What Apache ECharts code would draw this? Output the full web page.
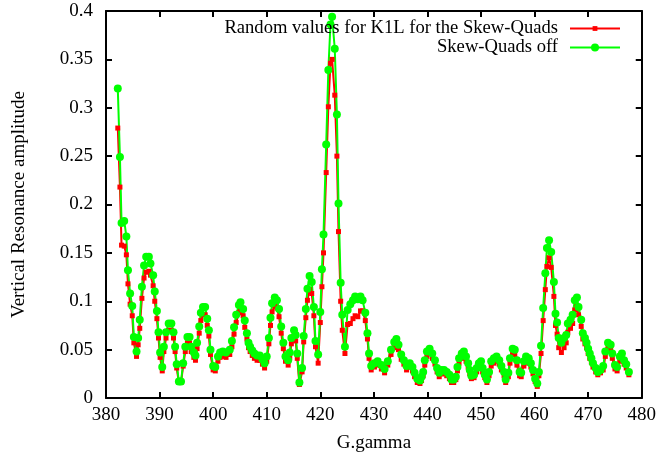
<!DOCTYPE html>
<html>
<head>
<meta charset="utf-8">
<script src="https://cdn.jsdelivr.net/npm/echarts@6/dist/echarts.min.js"></script>
<style>html,body{margin:0;padding:0;background:#fff}#c{width:659px;height:460px}</style>
</head>
<body>
<div id="c"></div>
<script>
const gammaValues = [
382.2,382.6,382.9,383.4,383.8,384.1,384.5,384.9,385.2,385.7,
386.0,386.3,386.7,387.1,387.5,388.0,388.3,388.8,389.1,389.5,
389.8,390.1,390.5,390.8,391.2,391.7,392.2,392.6,392.9,393.2,
393.6,394.0,394.4,394.8,395.2,395.6,395.9,396.4,396.7,397.0,
397.4,397.7,398.1,398.5,398.9,399.2,399.5,400.0,400.4,400.9,
401.3,401.8,402.4,403.1,403.5,403.9,404.3,404.8,405.1,405.6,
405.9,406.3,406.6,406.9,407.3,407.7,408.2,408.7,409.2,409.6,
410.0,410.4,410.7,411.0,411.5,411.9,412.3,412.7,413.1,413.5,
414.0,414.3,414.6,415.1,415.4,415.7,416.1,416.6,416.9,417.3,
417.6,418.0,418.4,418.8,419.1,419.6,420.0,420.3,420.6,421.1,
421.5,421.9,422.2,422.7,423.1,423.4,423.8,424.1,424.6,425.1,
425.6,426.1,426.5,427.0,427.5,427.9,428.4,428.8,429.1,429.5,
430.1,430.7,431.4,432.0,432.6,433.2,433.8,434.2,434.6,435.1,
435.6,436.1,436.7,437.2,437.6,438.1,438.6,438.9,439.2,439.5,
439.9,440.4,440.9,441.4,441.8,442.2,442.6,443.1,443.6,444.1,
444.5,444.9,445.3,445.6,445.9,446.4,446.8,447.2,447.6,447.9,
448.2,448.7,449.2,449.6,450.0,450.3,450.7,451.1,451.5,451.9,
452.4,452.9,453.4,453.8,454.3,454.6,455.1,455.4,455.9,456.3,
456.7,457.2,457.5,458.0,458.4,458.9,459.3,459.7,460.1,460.5,
460.8,461.2,461.6,462.0,462.3,462.7,463.1,463.6,463.9,464.2,
464.5,465.0,465.5,465.9,466.2,466.7,467.1,467.5,467.9,468.2,
468.7,469.0,469.4,469.7,470.0,470.3,470.6,470.9,471.4,471.8,
472.3,472.8,473.2,473.7,474.2,474.5,475.0,475.4,475.9,476.3,
476.7,477.1,477.6
];
const randomK1L = [
.279,.218,.158,.157,.148,.118,.097,.085,.057,.043,
.055,.072,.103,.124,.130,.131,.127,.116,.100,.082,
.062,.042,.028,.048,.062,.070,.070,.062,.048,.031,
.016,.016,.033,.048,.057,.057,.048,.042,.039,.051,
.067,.080,.086,.086,.075,.064,.045,.029,.028,.038,
.042,.043,.042,.045,.053,.066,.078,.088,.091,.085,
.073,.061,.052,.048,.044,.041,.039,.039,.035,.031,
.038,.056,.075,.089,.095,.093,.084,.067,.051,.038,
.034,.042,.056,.064,.059,.041,.014,.027,.058,.083,
.101,.112,.108,.085,.053,.036,.078,.115,.150,.233,
.301,.346,.350,.313,.250,.172,.100,.070,.046,.076,
.077,.082,.085,.084,.090,.090,.080,.061,.041,.029,
.032,.034,.030,.026,.034,.045,.052,.055,.050,.040,
.035,.029,.032,.028,.022,.016,.015,.018,.023,.034,
.043,.046,.041,.035,.027,.022,.025,.025,.023,.020,
.016,.016,.019,.028,.036,.041,.043,.038,.032,.025,
.020,.021,.027,.032,.034,.027,.021,.016,.023,.033,
.036,.038,.035,.029,.023,.016,.022,.036,.045,.045,
.034,.023,.022,.033,.038,.036,.032,.025,.017,.012,
.023,.046,.080,.112,.136,.145,.135,.105,.075,.066,
.052,.047,.052,.057,.068,.072,.077,.091,.095,.086,
.074,.061,.056,.052,.046,.041,.037,.032,.027,.024,
.026,.029,.043,.051,.050,.041,.030,.028,.038,.041,
.035,.031,.024
];
const skewQuadsOff = [
.320,.249,.181,.183,.167,.132,.108,.095,.063,.048,
.062,.081,.115,.137,.146,.146,.139,.127,.110,.090,
.068,.047,.032,.053,.068,.077,.077,.068,.053,.035,
.017,.017,.036,.053,.063,.063,.053,.047,.044,.057,
.074,.088,.094,.094,.082,.070,.050,.033,.032,.043,
.047,.048,.047,.050,.059,.073,.086,.096,.099,.092,
.080,.067,.057,.053,.049,.046,.044,.044,.040,.036,
.043,.062,.083,.098,.104,.101,.092,.074,.057,.043,
.039,.047,.062,.070,.065,.046,.016,.031,.064,.092,
.113,.126,.120,.094,.059,.045,.089,.133,.169,.262,
.339,.386,.394,.361,.293,.201,.119,.086,.053,.091,
.097,.101,.105,.102,.105,.101,.088,.067,.046,.033,
.036,.038,.034,.030,.038,.050,.058,.061,.055,.045,
.039,.033,.036,.032,.026,.020,.018,.022,.027,.039,
.048,.051,.046,.039,.031,.026,.029,.029,.027,.024,
.019,.019,.022,.032,.041,.046,.048,.043,.036,.029,
.023,.024,.031,.036,.038,.031,.024,.019,.027,.038,
.041,.043,.039,.033,.027,.019,.026,.041,.051,.050,
.039,.027,.026,.038,.043,.041,.036,.029,.020,.015,
.027,.054,.093,.129,.155,.163,.151,.120,.087,.078,
.062,.057,.062,.065,.077,.081,.086,.101,.104,.094,
.081,.067,.062,.057,.051,.046,.041,.036,.031,.027,
.029,.033,.048,.057,.055,.046,.034,.032,.043,.046,
.039,.035,.027
];
const seriesNames = ['Random values for K1L for the Skew-Quads', 'Skew-Quads off'];
const xTitle = 'G.gamma';
const yTitle = 'Vertical Resonance amplitude';

const FONT = 'Liberation Serif';
const FS = 19;
const LFS = 18.6;
const pairs = (ys) => gammaValues.map((g, i) => [g, ys[i]]);
const chart = echarts.init(document.getElementById('c'), null, {renderer: 'canvas'});
const axisCommon = {
  axisLine: {show: true, onZero: false, lineStyle: {color: '#000', width: 2}},
  axisTick: {show: true, inside: true, length: 6, lineStyle: {color: '#000', width: 2}},
  splitLine: {show: false}
};
chart.setOption({
  animation: false,
  backgroundColor: '#fff',
  grid: {left: 106, right: 17, top: 11, bottom: 62},
  legend: [
    {data: [seriesNames[0]], right: 33, top: 14, align: 'right', itemWidth: 50, itemHeight: 6,
     textStyle: {fontFamily: FONT, fontSize: LFS, color: '#000', padding: [0, 7, 0, 0]}},
    {data: [seriesNames[1]], right: 33, top: 33, align: 'right', itemWidth: 50, itemHeight: 10,
     textStyle: {fontFamily: FONT, fontSize: LFS, color: '#000', padding: [0, 7, 0, 0]}}
  ],
  xAxis: [
    Object.assign({type: 'value', min: 380, max: 480, interval: 10, position: 'bottom',
      name: xTitle, nameLocation: 'middle', nameGap: 36,
      nameTextStyle: {fontFamily: FONT, fontSize: FS, color: '#000'},
      axisLabel: {fontFamily: FONT, fontSize: FS, color: '#000', margin: 8}}, axisCommon),
    Object.assign({type: 'value', min: 380, max: 480, interval: 10, position: 'top',
      axisLabel: {show: false}}, axisCommon)
  ],
  yAxis: [
    Object.assign({type: 'value', min: 0, max: 0.4, interval: 0.05, position: 'left',
      name: yTitle, nameLocation: 'middle', nameGap: 77,
      nameTextStyle: {fontFamily: FONT, fontSize: FS, color: '#000'},
      axisLabel: {fontFamily: FONT, fontSize: FS, color: '#000', margin: 13}}, axisCommon),
    Object.assign({type: 'value', min: 0, max: 0.4, interval: 0.05, position: 'right',
      axisLabel: {show: false}}, axisCommon)
  ],
  series: [
    {name: seriesNames[0], type: 'line', data: pairs(randomK1L), color: '#ff0000',
     symbol: 'rect', symbolSize: 5, showAllSymbol: true,
     lineStyle: {width: 2, color: '#ff0000'}, itemStyle: {color: '#ff0000'}},
    {name: seriesNames[1], type: 'line', data: pairs(skewQuadsOff), color: '#00ff00',
     symbol: 'circle', symbolSize: 8, showAllSymbol: true,
     lineStyle: {width: 2, color: '#00ff00'}, itemStyle: {color: '#00ff00'}}
  ]
});
</script>
</body>
</html>
